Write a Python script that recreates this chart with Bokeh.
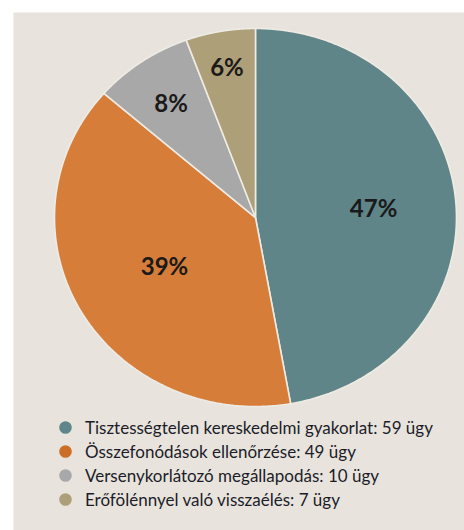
import numpy as np
from bokeh.plotting import figure
from bokeh.models import ColumnDataSource, Legend, LegendItem, Range1d
from bokeh.core.properties import value
from bokeh.embed import file_html
from bokeh.resources import INLINE

# ---- data ----
categories = [
    "Tisztességtelen kereskedelmi gyakorlat",
    "Összefonódások ellenőrzése",
    "Versenykorlátozó megállapodás",
    "Erőfölénnyel való visszaélés",
]
cases = [59, 49, 10, 7]
unit = "ügy"

# ---- style / layout ----
colors = ["#5f8589", "#d77d3a", "#a8a8a8", "#ad9f78"]
legend_colors = ["#5f868b", "#cb6e26", "#a8a8aa", "#ad9f7a"]
label_r = [0.59, 0.52, 0.74, 0.81]
bg = "#e8e4dd"

total = sum(cases)
fr = np.cumsum([0] + cases) / total
pct = [f"{round(100 * c / total)}%" for c in cases]

xs, ys, lx, ly = [], [], [], []
for i in range(len(cases)):
    th = np.linspace(fr[i], fr[i + 1], 240) * 2 * np.pi
    xs.append(np.concatenate([[0.0], np.sin(th), [0.0]]))
    ys.append(np.concatenate([[0.0], np.cos(th), [0.0]]))
    mid = (fr[i] + fr[i + 1]) * np.pi
    lx.append(label_r[i] * np.sin(mid))
    ly.append(label_r[i] * np.cos(mid))

p = figure(width=464, height=530, output_backend="svg", toolbar_location=None,
           x_range=Range1d(-1.204, 1.040), y_range=Range1d(-1.656, 1.0847),
           x_axis_type=None, y_axis_type=None,
           min_border_left=13, min_border_top=12, min_border_right=0, min_border_bottom=0)
p.grid.visible = False
p.outline_line_color = None
p.background_fill_color = bg
p.border_fill_color = "white"

src = ColumnDataSource(dict(xs=xs, ys=ys, color=colors))
p.patches("xs", "ys", source=src, fill_color="color", line_color="#eeebe5", line_width=1.6)

p.text(x=lx, y=ly, text=pct, text_align="center", text_baseline="middle",
       text_font=value("Lato"), text_font_style="bold", text_font_size="24px",
       text_color="#1a1a1a")

items = []
for i, (cat, n) in enumerate(zip(categories, cases)):
    r = p.scatter(x=[np.nan], y=[np.nan], marker="circle", fill_color=legend_colors[i],
                  line_color=legend_colors[i], line_width=3)
    items.append(LegendItem(label=f"{cat}: {n} {unit}", renderers=[r]))

legend = Legend(items=items, location=(40, 19), orientation="vertical",
                glyph_width=24, glyph_height=24, label_height=24, spacing=0,
                label_standoff=8, padding=0, margin=0,
                label_text_font="Lato", label_text_font_size="17px",
                label_text_color="#1c1c28", label_text_baseline="middle",
                background_fill_alpha=0, border_line_alpha=0)
p.add_layout(legend)

open("out.html", "w").write(file_html(p, INLINE))
